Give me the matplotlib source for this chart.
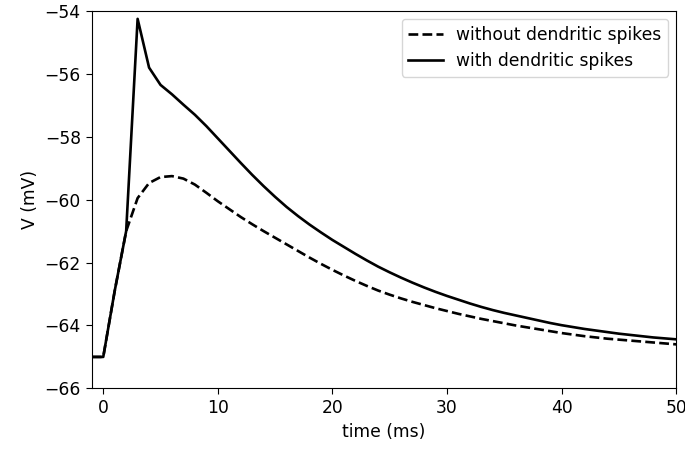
import numpy
import matplotlib
matplotlib.use('Agg')
import matplotlib.pyplot as plt

# time axis, 1 ms steps
time = numpy.arange(-1, 51)

v_with = [
    -65.0, -65.0, -62.9, -61.0, -54.25, -55.8, -56.35, -56.65, -56.98, -57.3,
    -57.66, -58.05, -58.44, -58.83, -59.21, -59.57, -59.91, -60.23, -60.52, -60.79,
    -61.04, -61.28, -61.5, -61.72, -61.93, -62.13, -62.31, -62.48, -62.64, -62.79,
    -62.93, -63.06, -63.18, -63.3, -63.41, -63.51, -63.6, -63.68, -63.76, -63.84,
    -63.92, -63.99, -64.05, -64.11, -64.16, -64.21, -64.26, -64.3, -64.34, -64.38,
    -64.41, -64.44,
]

v_without = [
    -65.0, -65.0, -62.9, -61.0, -59.95, -59.47, -59.28, -59.25, -59.33, -59.52,
    -59.78, -60.05, -60.3, -60.55, -60.78, -61.0, -61.21, -61.42, -61.63, -61.84,
    -62.04, -62.23, -62.41, -62.58, -62.74, -62.89, -63.02, -63.14, -63.25, -63.35,
    -63.45, -63.54, -63.63, -63.71, -63.79, -63.86, -63.93, -64.0, -64.06, -64.12,
    -64.18, -64.24, -64.29, -64.34, -64.38, -64.42, -64.45, -64.48, -64.51, -64.54,
    -64.57, -64.6,
]

plt.rcParams['font.size'] = 12.3
plt.rcParams['xtick.major.size'] = 4.4
plt.rcParams['ytick.major.size'] = 4.4

figure = plt.figure(figsize=(6.85, 4.49), dpi=100)
ax = figure.add_axes([0.134, 0.135, 0.853, 0.8405])

ax.plot(time, v_without, '--', color='k', lw=1.9, label='without dendritic spikes')
ax.plot(time, v_with, '-', color='k', lw=1.9, label='with dendritic spikes')

ax.set_xlim(-1, 50)
ax.set_ylim(-66, -54)
ax.set_xlabel('time (ms)')
ax.set_ylabel('V (mV)')
ax.legend(loc='upper right', borderaxespad=0.45)

figure.savefig('out.png', dpi=100)
